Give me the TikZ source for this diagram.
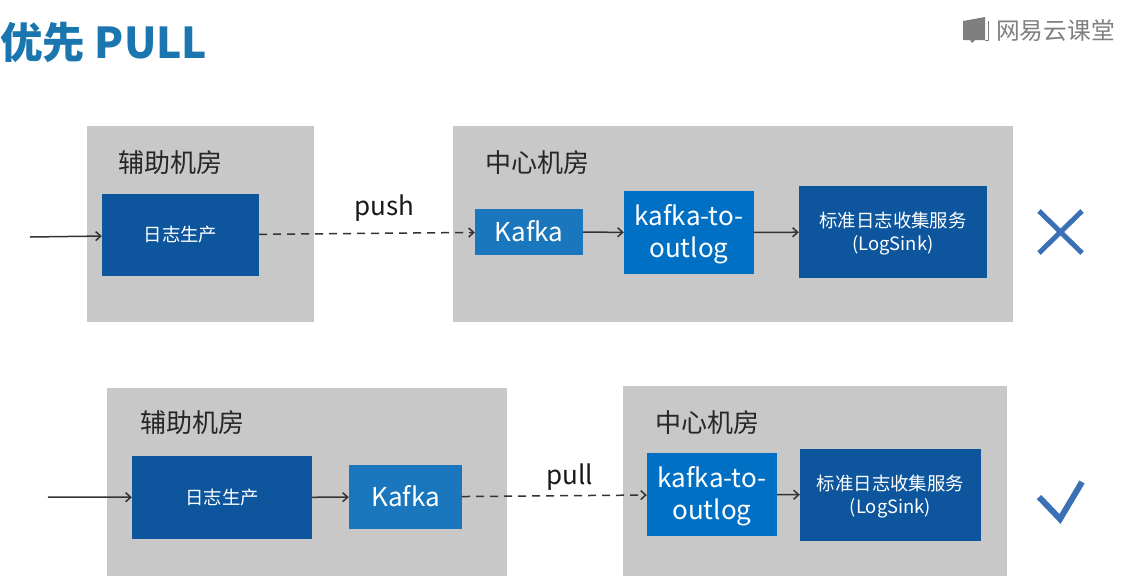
\documentclass[tikz,border=0pt]{standalone}
\usepackage{fontspec}
\setmainfont{Noto Sans CJK SC}
\usetikzlibrary{arrows.meta}

\definecolor{roomgray}{HTML}{C8C8C8}
\definecolor{darkblue}{HTML}{0D569D}
\definecolor{midblue}{HTML}{1A77BE}
\definecolor{brightblue}{HTML}{0070C4}
\definecolor{titleblue}{HTML}{1B75AF}
\definecolor{markblue}{HTML}{3A70B4}
\definecolor{logogray}{HTML}{7F7F7F}
\definecolor{linegray}{HTML}{333333}

\newcommand{\lowerbig}{\rule{0pt}{24pt}}
\newcommand{\lowersmall}{\rule{0pt}{18pt}}

\tikzset{
  room/.style={fill=roomgray, inner sep=0pt},
  roomlabel/.style={text=black!85, font=\fontsize{26}{28}\selectfont, inner sep=0pt},
  darkbox/.style={fill=darkblue, text=white, align=center, inner sep=0pt,
    font=\fontsize{18.4}{23}\selectfont},
  kafkabox/.style={fill=midblue, text=white, inner sep=0pt,
    font=\fontsize{26}{30}\selectfont},
  outlogbox/.style={fill=brightblue, text=white, align=center, inner sep=0pt,
    font=\fontsize{26}{32}\selectfont},
  flowlabel/.style={text=black!90, font=\fontsize{26}{30}\selectfont, inner sep=0pt},
  flow/.style={-{Straight Barb[length=5pt,width=9pt]}, line width=1.5pt, color=linegray},
  dashflow/.style={flow, dash pattern=on 8pt off 6pt},
  signline/.style={line width=5pt, color=markblue}
}

\begin{document}
\begin{tikzpicture}[x=1pt,y=-1pt]
  \useasboundingbox (0,0) rectangle (1127,576);

  % title and logo
  \node[anchor=west, inner sep=0pt, text=titleblue, font=\fontsize{42.5}{44}\selectfont\bfseries]
    (title) at (0,42) {优先 PULL};
  \fill[logogray] (963,21) -- (985,17) -- (985,40) -- (975,40) -- (972,43) -- (970,40) -- (963,40) -- cycle;
  \draw[logogray, thick] (988,21) -- (988,40) -- (985,40);
  \node[anchor=west, inner sep=0pt, text=logogray, font=\fontsize{23.7}{26}\selectfont]
    (logo) at (996,31) {网易云课堂};

  % push
  \node[room, minimum width=227pt, minimum height=196pt] (auxA) at (200.5,224) {};
  \node[room, minimum width=560pt, minimum height=196pt] (centerA) at (733,224) {};
  \node[roomlabel] (auxAlabel) at (170.5,163) {辅助机房};
  \node[roomlabel] (centerAlabel) at (537,163) {中心机房};

  \node[darkbox, minimum width=157pt, minimum height=82pt] (prodA) at (180.5,235) {日志生产};
  \node[kafkabox, minimum width=108pt, minimum height=46pt] (kafkaA) at (529,232) {\raisebox{2pt}{Kafka}};
  \node[outlogbox, minimum width=130pt, minimum height=83pt] (outlogA) at (689,232.5) {\lowerbig kafka-to-\\outlog};
  \node[darkbox, minimum width=188pt, minimum height=92pt] (sinkA) at (893,232) {\lowersmall 标准日志收集服务\\(LogSink)};
  \node[flowlabel] (push) at (384.5,208) {push};

  \coordinate (startA) at (30,237);
  \draw[flow] (startA) -- (prodA);
  \draw[dashflow] (prodA) -- (kafkaA);
  \draw[flow] (kafkaA) -- (outlogA);
  \draw[flow] (outlogA) -- (sinkA);

  \coordinate (crossA) at (1039,211);
  \coordinate (crossB) at (1082,253);
  \coordinate (crossC) at (1082,211);
  \coordinate (crossD) at (1039,253);
  \draw[signline] (crossA) -- (crossB);
  \draw[signline] (crossC) -- (crossD);

  % pull
  \node[room, minimum width=400pt, minimum height=188pt] (auxB) at (307,482) {};
  \node[room, minimum width=384pt, minimum height=190pt] (centerB) at (815,481) {};
  \node[roomlabel] (auxBlabel) at (192.5,423) {辅助机房};
  \node[roomlabel] (centerBlabel) at (707,423) {中心机房};

  \node[darkbox, minimum width=180pt, minimum height=83pt] (prodB) at (222,497.5) {日志生产};
  \node[kafkabox, minimum width=113pt, minimum height=64pt] (kafkaB) at (405.5,497) {\raisebox{2pt}{Kafka}};
  \node[outlogbox, minimum width=130pt, minimum height=83pt] (outlogB) at (712,494.5) {\lowerbig kafka-to-\\outlog};
  \node[darkbox, minimum width=181pt, minimum height=92pt] (sinkB) at (890.5,495) {\lowersmall 标准日志收集服务\\(LogSink)};
  \node[flowlabel] (pull) at (569.5,477) {pull};

  \coordinate (startB) at (48,497);
  \draw[flow] (startB) -- (prodB);
  \draw[flow] (prodB) -- (kafkaB);
  \draw[dashflow] (kafkaB) -- (outlogB);
  \draw[flow] (outlogB) -- (sinkB);

  \coordinate (checkA) at (1039,497);
  \coordinate (checkB) at (1060,519);
  \coordinate (checkC) at (1082,482);
  \draw[signline, line width=6pt] (checkA) -- (checkB) -- (checkC);
\end{tikzpicture}
\end{document}
